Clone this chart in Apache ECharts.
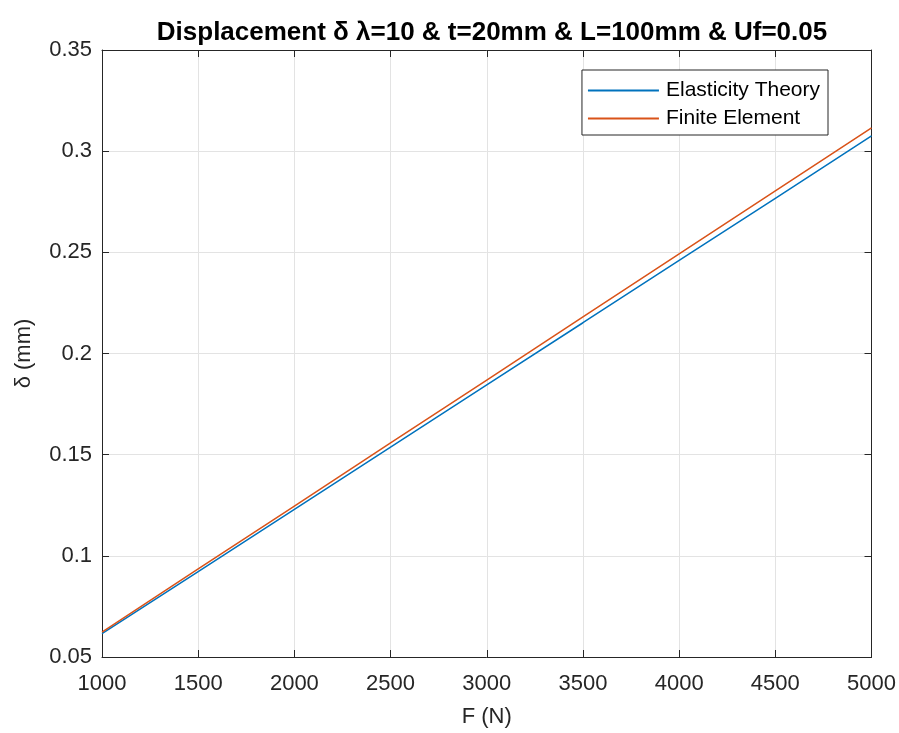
<!DOCTYPE html>
<html>
<head>
<meta charset="utf-8">
<script src="https://cdn.jsdelivr.net/npm/echarts@6/dist/echarts.min.js"></script>
<style>
html,body{margin:0;padding:0;background:#fff;}
#chart{width:899px;height:733px;}
</style>
</head>
<body>
<div id="chart"></div>
<script>
// Applied force F (N)
const forces = [1000, 1500, 2000, 2500, 3000, 3500, 4000, 4500, 5000];
// Displacement δ (mm) from elasticity theory
const elasticity = [0.0615, 0.0922, 0.1230, 0.1537, 0.1845, 0.2152, 0.2460, 0.2767, 0.3075];
// Displacement δ (mm) from the finite element model
const finiteElement = [0.0623, 0.0935, 0.1246, 0.1558, 0.1869, 0.2181, 0.2492, 0.2804, 0.3115];

const titleText = 'Displacement δ λ=10 & t=20mm & L=100mm & Uf=0.05';
const xName = 'F (N)';
const yName = 'δ (mm)';

const font = 'Liberation Sans, Arial, Helvetica, sans-serif';
const axisColor = '#262626';
const gridColor = '#e3e3e3';

const pairs = (xs, ys) => xs.map((x, i) => [x, ys[i]]);

const chart = echarts.init(document.getElementById('chart'), null, {renderer: 'canvas'});

const xBase = {
  type: 'value', min: 1000, max: 5000, interval: 500,
  axisLine: {show: true, lineStyle: {color: axisColor, width: 1}},
  axisTick: {show: true, inside: true, length: 7, lineStyle: {color: axisColor}},
  splitLine: {show: false}
};
const yBase = {
  type: 'value', min: 0.05, max: 0.35, interval: 0.05,
  axisLine: {show: true, lineStyle: {color: axisColor, width: 1}},
  axisTick: {show: true, inside: true, length: 7, lineStyle: {color: axisColor}},
  splitLine: {show: false}
};

chart.setOption({
  animation: false,
  backgroundColor: '#ffffff',
  title: {
    text: titleText,
    left: 487, top: 15, textAlign: 'center',
    textStyle: {fontFamily: font, fontSize: 26, fontWeight: 'bold', color: '#000'}
  },
  grid: {left: 102, right: 26, top: 50, bottom: 74, containLabel: false},
  legend: {
    orient: 'vertical',
    right: 71, top: 70,
    padding: [10, 8, 6, 6],
    itemGap: 7,
    itemWidth: 71, itemHeight: 2,
    icon: 'rect',
    borderColor: axisColor, borderWidth: 1,
    backgroundColor: '#fff',
    textStyle: {fontFamily: font, fontSize: 21, color: '#000', padding: [0, 0, 0, 2]},
    data: ['Elasticity Theory', 'Finite Element']
  },
  xAxis: [
    Object.assign({}, xBase, {
      position: 'bottom',
      name: xName, nameLocation: 'middle', nameGap: 49,
      nameTextStyle: {fontFamily: font, fontSize: 22, color: axisColor},
      axisLabel: {fontFamily: font, fontSize: 22, color: axisColor, margin: 16,
        formatter: v => String(v)},
      splitLine: {show: true, lineStyle: {color: gridColor, width: 1}}
    }),
    Object.assign({}, xBase, {position: 'top', axisLabel: {show: false}})
  ],
  yAxis: [
    Object.assign({}, yBase, {
      position: 'left',
      name: yName, nameLocation: 'middle', nameGap: 67, nameRotate: 90,
      nameTextStyle: {fontFamily: font, fontSize: 22, color: axisColor},
      axisLabel: {fontFamily: font, fontSize: 22, color: axisColor, margin: 10,
        formatter: v => String(+v.toFixed(2))},
      splitLine: {show: true, lineStyle: {color: gridColor, width: 1}}
    }),
    Object.assign({}, yBase, {position: 'right', axisLabel: {show: false}})
  ],
  series: [
    {
      name: 'Elasticity Theory', type: 'line', symbol: 'none',
      data: pairs(forces, elasticity),
      lineStyle: {color: '#0072BD', width: 1.5}, itemStyle: {color: '#0072BD'}
    },
    {
      name: 'Finite Element', type: 'line', symbol: 'none',
      data: pairs(forces, finiteElement),
      lineStyle: {color: '#D95319', width: 1.5}, itemStyle: {color: '#D95319'}
    }
  ]
});
</script>
</body>
</html>
